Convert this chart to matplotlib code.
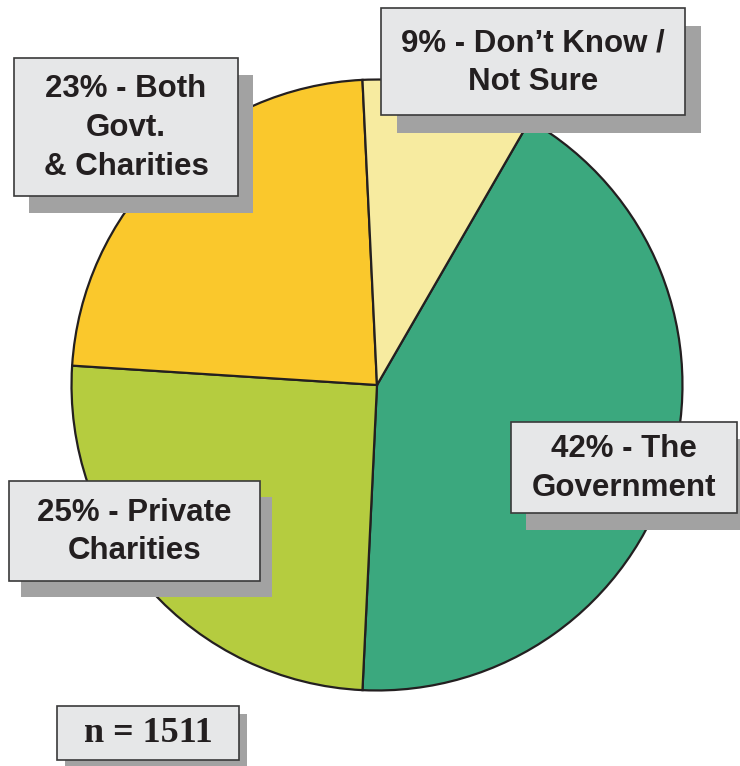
import matplotlib.pyplot as plt
from matplotlib.patches import Rectangle

# Survey shares, clockwise from the top-right wedge
labels = ["42% - The\nGovernment", "25% - Private\nCharities",
          "23% - Both\nGovt.\n& Charities", "9% - Don\u2019t Know /\nNot Sure"]
shares = [42, 25, 23, 9]
colors = ["#3BA87E", "#B5CC3F", "#FAC82C", "#F7EBA0"]
sample_note = "n = 1511"

W, H = 740, 766
fig = plt.figure(figsize=(W / 100, H / 100), dpi=100)

# pie axes placed so the disc sits at (377, 385) px with radius 307 px
cx, cy, r = 377, 385, 307
ax = fig.add_axes(((cx - r) / W, (H - cy - r) / H, 2 * r / W, 2 * r / H))
ax.pie(shares, colors=colors, startangle=60, counterclock=False, radius=1,
       wedgeprops=dict(edgecolor="#231F20", linewidth=1.6))
ax.set_xlim(-1.005, 1.005)
ax.set_ylim(-1.005, 1.005)
ax.axis("off")

# overlay axes in pixel coordinates for the label boxes
ov = fig.add_axes((0, 0, 1, 1))
ov.set_xlim(0, W)
ov.set_ylim(H, 0)
ov.axis("off")

sans = ["Liberation Sans Narrow", "Liberation Sans", "DejaVu Sans"]


def label_box(x0, y0, x1, y1, text, family, size, dx=15, dy=17, ls=1.38):
    ov.add_patch(Rectangle((x0 + dx, y0 + dy), x1 - x0, y1 - y0,
                           facecolor="#A2A2A2", edgecolor="none", zorder=2))
    ov.add_patch(Rectangle((x0, y0), x1 - x0, y1 - y0, facecolor="#E6E7E8",
                           edgecolor="#3A3A3A", linewidth=1.2, zorder=3))
    ov.text((x0 + x1) / 2, (y0 + y1) / 2 + 1, text, ha="center", va="center",
            fontsize=size, fontweight="bold", family=family, color="#231F20",
            linespacing=ls, zorder=4)


label_box(511, 422, 737, 513, labels[0], sans, 22.5)
label_box(9, 481, 260, 581, labels[1], sans, 22.5, dx=12, dy=16)
label_box(14, 58, 238, 196, labels[2], sans, 22.5)
label_box(381, 8, 685, 115, labels[3], sans, 22.5, dx=16, dy=18)
label_box(57, 706, 239, 760, sample_note,
          ["Liberation Serif", "DejaVu Serif"], 26, dx=8, dy=8)

fig.savefig("out.png", dpi=100)
